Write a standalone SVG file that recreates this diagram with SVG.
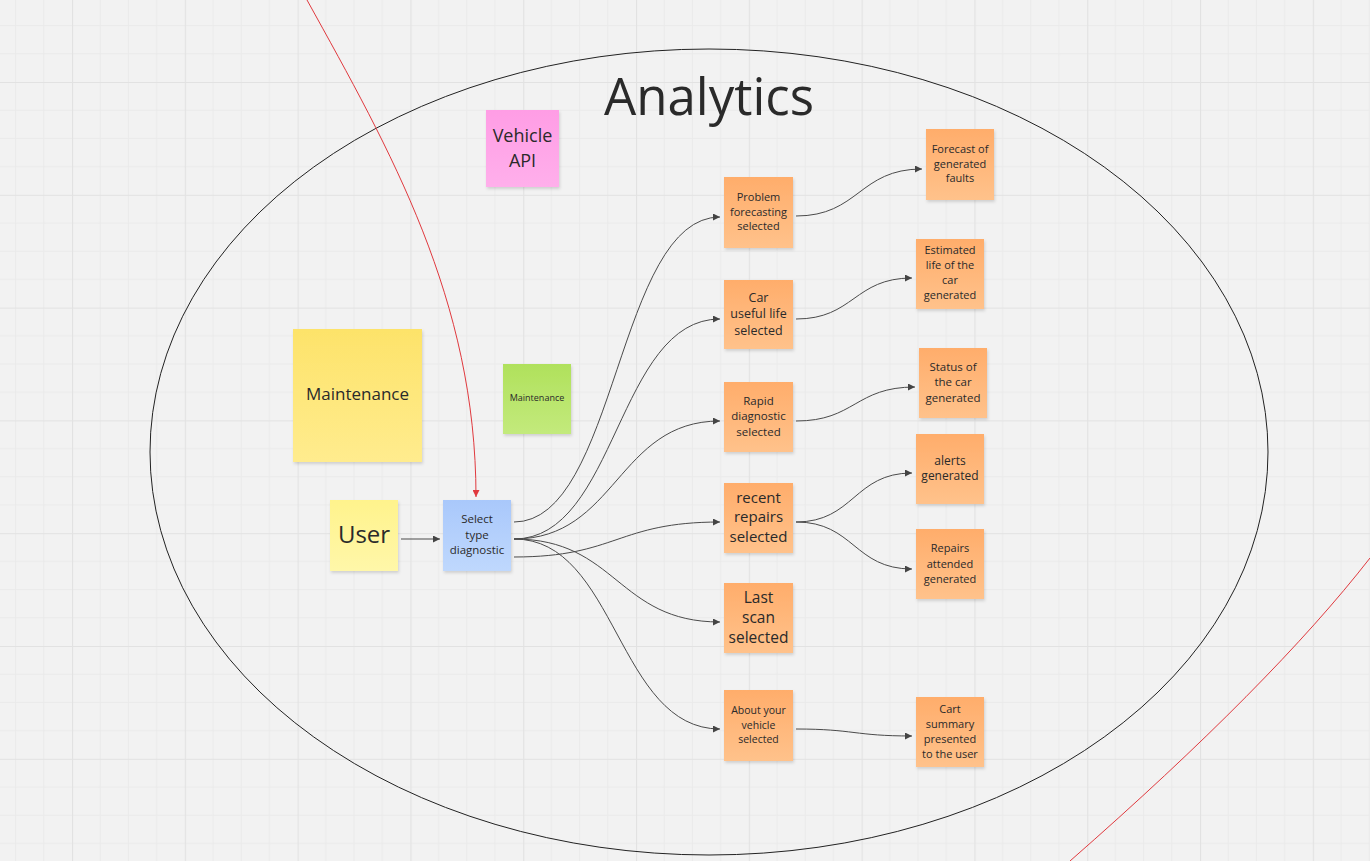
<svg xmlns="http://www.w3.org/2000/svg" width="1370" height="861" viewBox="0 0 1370 861">
<defs>
<pattern id="grid" patternUnits="userSpaceOnUse" x="72" y="82" width="112.8" height="112.8">
<rect width="112.8" height="112.8" fill="#f2f2f2"/>
<path d="M28.2,0V112.8M56.4,0V112.8M84.6,0V112.8M0,28.2H112.8M0,56.4H112.8M0,84.6H112.8" stroke="#eaeaea" stroke-width="1" fill="none"/>
<path d="M0.5,0V112.8M0,0.5H112.8" stroke="#e2e2e2" stroke-width="1.2" fill="none"/>
</pattern>
<linearGradient id="gOrange" x1="0" y1="0" x2="0" y2="1"><stop offset="0" stop-color="#ffad6b"/><stop offset="1" stop-color="#ffc28b"/></linearGradient>
<linearGradient id="gYellow" x1="0" y1="0" x2="0" y2="1"><stop offset="0" stop-color="#fde36a"/><stop offset="1" stop-color="#ffec8e"/></linearGradient>
<linearGradient id="gLightYellow" x1="0" y1="0" x2="0" y2="1"><stop offset="0" stop-color="#fff38c"/><stop offset="1" stop-color="#fff7a9"/></linearGradient>
<linearGradient id="gBlue" x1="0" y1="0" x2="0" y2="1"><stop offset="0" stop-color="#a9c8fb"/><stop offset="1" stop-color="#bfd8fd"/></linearGradient>
<linearGradient id="gGreen" x1="0" y1="0" x2="0" y2="1"><stop offset="0" stop-color="#b0e15c"/><stop offset="1" stop-color="#c3ea7c"/></linearGradient>
<linearGradient id="gPink" x1="0" y1="0" x2="0" y2="1"><stop offset="0" stop-color="#ff9de5"/><stop offset="1" stop-color="#ffafeb"/></linearGradient>
<filter id="shadow" x="-10%" y="-10%" width="130%" height="130%">
<feDropShadow dx="1" dy="2" stdDeviation="1.5" flood-color="#000" flood-opacity="0.14"/>
</filter>
<marker id="arrow" viewBox="0 0 7 7" refX="7" refY="3.5" markerWidth="7" markerHeight="7" markerUnits="userSpaceOnUse" orient="auto">
<path d="M0,0L7,3.5L0,7z" fill="#444"/>
</marker>
<marker id="arrowRed" viewBox="0 0 7 7" refX="7" refY="3.5" markerWidth="7" markerHeight="7" markerUnits="userSpaceOnUse" orient="auto">
<path d="M0,0L7,3.5L0,7z" fill="#e0393e"/>
</marker>
</defs>
<style>
.note{filter:url(#shadow);}
.t{font-family:"Open Sans","Noto Sans","DejaVu Sans",sans-serif;fill:#2a2a2a;text-anchor:middle;}
.c{fill:none;stroke:#4a4a4a;stroke-width:1;marker-end:url(#arrow);}
.r{fill:none;stroke:#e0393e;stroke-width:1;}
</style>
<rect width="1370" height="861" fill="url(#grid)"/>

<g id="analytics-frame">
<ellipse cx="709" cy="452" rx="559" ry="403" fill="none" stroke="#222" stroke-width="1"/>
<text class="t" x="709" y="115" font-size="51" fill="#1a1a1a">Analytics</text>
</g>

<g id="red-lines">
<path class="r" d="M307,0 C390,150 476,300 476,497" marker-end="url(#arrowRed)"/>
<path class="r" d="M1370,558 Q1272,684 1070,861"/>
</g>

<g id="connectors">
<path class="c" d="M401,539 L440,539"/>
<path class="c" d="M514,522 C617,522 617,217 720,217"/>
<path class="c" d="M514,539 C617,539 617,319 720,319"/>
<path class="c" d="M514,539 C617,539 617,421 720,421"/>
<path class="c" d="M514,557 C617,557 617,522 720,522"/>
<path class="c" d="M514,539 C617,539 617,622 720,622"/>
<path class="c" d="M514,539 C617,539 617,729 720,729"/>
<path class="c" d="M796,216 C859,216 859,169 922,169"/>
<path class="c" d="M796,319 C854,319 854,278 912,278"/>
<path class="c" d="M796,421 C855,421 855,387 915,387"/>
<path class="c" d="M796,522 C854,522 854,473 912,473"/>
<path class="c" d="M796,522 C854,522 854,569 912,569"/>
<path class="c" d="M796,729 C854,729 854,736 912,736"/>
</g>

<g id="node-vehicle-api">
<rect class="note" x="486" y="110" width="73" height="77" fill="url(#gPink)"/>
<text class="t" font-size="18"><tspan x="522.5" y="142">Vehicle</tspan><tspan x="522.5" y="167">API</tspan></text>
</g>

<g id="node-maintenance-yellow">
<rect class="note" x="293" y="329" width="129" height="133" fill="url(#gYellow)"/>
<text class="t" x="357.5" y="400" font-size="17">Maintenance</text>
</g>

<g id="node-maintenance-green">
<rect class="note" x="503" y="364" width="68" height="70" fill="url(#gGreen)"/>
<text class="t" x="537" y="401" font-size="9">Maintenance</text>
</g>

<g id="node-user">
<rect class="note" x="330" y="500" width="68" height="71" fill="url(#gLightYellow)"/>
<text class="t" x="364" y="543" font-size="24">User</text>
</g>

<g id="node-select">
<rect class="note" x="443" y="500" width="68" height="71" fill="url(#gBlue)"/>
<text class="t" font-size="11.5"><tspan x="477" y="523">Select</tspan><tspan x="477" y="539">type</tspan><tspan x="477" y="554">diagnostic</tspan></text>
</g>

<g id="node-problem-forecasting">
<rect class="note" x="724" y="177" width="69" height="71" fill="url(#gOrange)"/>
<text class="t" font-size="11"><tspan x="758.5" y="201">Problem</tspan><tspan x="758.5" y="216">forecasting</tspan><tspan x="758.5" y="230">selected</tspan></text>
</g>

<g id="node-car-useful-life">
<rect class="note" x="724" y="280" width="69" height="69" fill="url(#gOrange)"/>
<text class="t" font-size="12.5"><tspan x="758.5" y="302">Car</tspan><tspan x="758.5" y="318">useful life</tspan><tspan x="758.5" y="335">selected</tspan></text>
</g>

<g id="node-rapid-diagnostic">
<rect class="note" x="724" y="382" width="69" height="70" fill="url(#gOrange)"/>
<text class="t" font-size="11.5"><tspan x="758.5" y="405">Rapid</tspan><tspan x="758.5" y="420">diagnostic</tspan><tspan x="758.5" y="436">selected</tspan></text>
</g>

<g id="node-recent-repairs">
<rect class="note" x="724" y="483" width="69" height="70" fill="url(#gOrange)"/>
<text class="t" font-size="15"><tspan x="758.5" y="503">recent</tspan><tspan x="758.5" y="522">repairs</tspan><tspan x="758.5" y="542">selected</tspan></text>
</g>

<g id="node-last-scan">
<rect class="note" x="724" y="583" width="69" height="70" fill="url(#gOrange)"/>
<text class="t" font-size="15.5"><tspan x="758.5" y="603">Last</tspan><tspan x="758.5" y="623">scan</tspan><tspan x="758.5" y="643">selected</tspan></text>
</g>

<g id="node-about-vehicle">
<rect class="note" x="724" y="690" width="69" height="71" fill="url(#gOrange)"/>
<text class="t" font-size="10.5"><tspan x="758.5" y="714">About your</tspan><tspan x="758.5" y="729">vehicle</tspan><tspan x="758.5" y="743">selected</tspan></text>
</g>

<g id="node-forecast-faults">
<rect class="note" x="926" y="129" width="68" height="71" fill="url(#gOrange)"/>
<text class="t" font-size="11"><tspan x="960" y="153">Forecast of</tspan><tspan x="960" y="168">generated</tspan><tspan x="960" y="182">faults</tspan></text>
</g>

<g id="node-estimated-life">
<rect class="note" x="916" y="239" width="68" height="70" fill="url(#gOrange)"/>
<text class="t" font-size="11"><tspan x="950" y="254">Estimated</tspan><tspan x="950" y="269">life of the</tspan><tspan x="950" y="284">car</tspan><tspan x="950" y="299">generated</tspan></text>
</g>

<g id="node-status-car">
<rect class="note" x="919" y="348" width="68" height="70" fill="url(#gOrange)"/>
<text class="t" font-size="11.5"><tspan x="953" y="371">Status of</tspan><tspan x="953" y="386">the car</tspan><tspan x="953" y="402">generated</tspan></text>
</g>

<g id="node-alerts">
<rect class="note" x="916" y="434" width="68" height="70" fill="url(#gOrange)"/>
<text class="t" font-size="12"><tspan x="950" y="465">alerts</tspan><tspan x="950" y="480">generated</tspan></text>
</g>

<g id="node-repairs-attended">
<rect class="note" x="916" y="529" width="68" height="70" fill="url(#gOrange)"/>
<text class="t" font-size="11"><tspan x="950" y="552">Repairs</tspan><tspan x="950" y="568">attended</tspan><tspan x="950" y="583">generated</tspan></text>
</g>

<g id="node-cart-summary">
<rect class="note" x="916" y="697" width="68" height="70" fill="url(#gOrange)"/>
<text class="t" font-size="11"><tspan x="950" y="713">Cart</tspan><tspan x="950" y="728">summary</tspan><tspan x="950" y="743">presented</tspan><tspan x="950" y="758">to the user</tspan></text>
</g>
</svg>
